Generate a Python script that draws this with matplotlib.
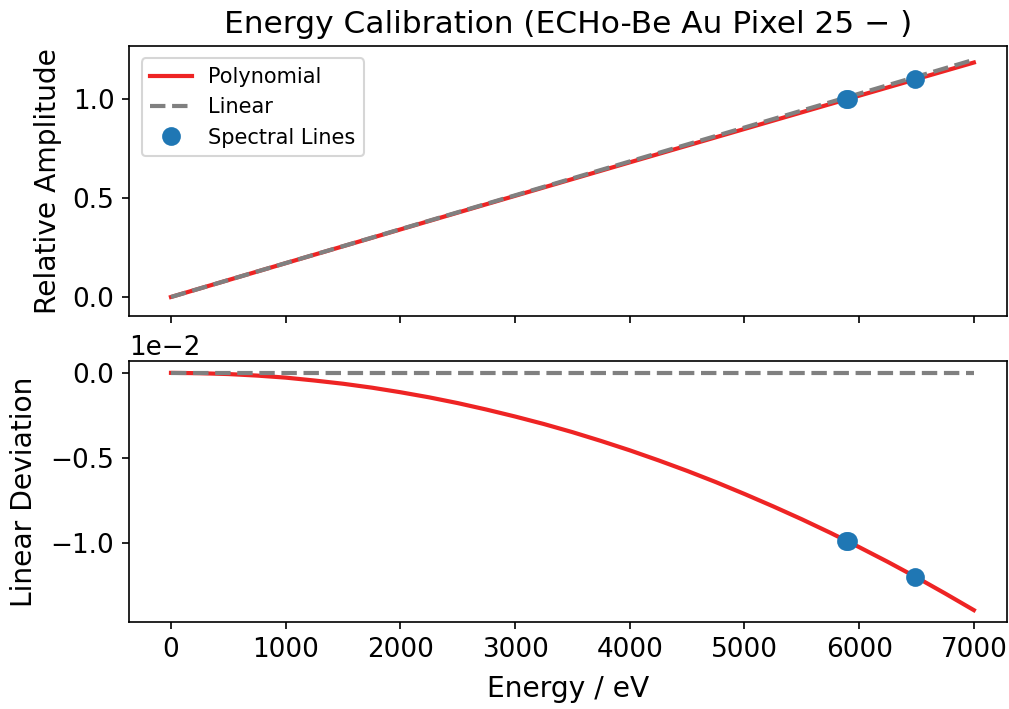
import numpy as np
import matplotlib
matplotlib.use("Agg")
import matplotlib.pyplot as plt

plt.rcParams["font.size"] = 12.6
plt.rcParams["axes.labelsize"] = 13.5

# Calibration curve samples (energy in eV)
energy = [0, 250, 500, 750, 1000, 1250, 1500, 1750, 2000, 2250, 2500, 2750,
          3000, 3250, 3500, 3750, 4000, 4250, 4500, 4750, 5000, 5250, 5500,
          5750, 6000, 6250, 6500, 6750, 7000]
poly_amplitude = [0.0, 0.04278, 0.08554, 0.12825, 0.17093, 0.21357, 0.25618,
                  0.29875, 0.34128, 0.38378, 0.42625, 0.46867, 0.51106,
                  0.55342, 0.59575, 0.63803, 0.68028, 0.72249, 0.76468,
                  0.80682, 0.84892, 0.89100, 0.93304, 0.97504, 1.01700,
                  1.05894, 1.10083, 1.14269, 1.18450]
linear_energy = [0, 7000]
linear_amplitude = [0.0, 1.19847]

# Deviation of the polynomial from the linear calibration
deviation = [0.0, -0.00002, -0.00007, -0.00016, -0.00028, -0.00045,
             -0.00064, -0.00087, -0.00114, -0.00144, -0.00178, -0.00216,
             -0.00257, -0.00301, -0.00349, -0.00401, -0.00456, -0.00515,
             -0.00577, -0.00643, -0.00713, -0.00786, -0.00862, -0.00942,
             -0.01026, -0.01113, -0.01204, -0.01299, -0.01397]
linear_deviation = [0.0, 0.0]

# Mn K lines used for the calibration
line_energy = [5887.65, 5898.75, 6490.45]
line_amplitude = [0.99815, 1.00000, 1.09923]
line_deviation = [-0.00987, -0.00991, -0.01200]

red = "#ee2424"
grey = "grey"
blue = "#1f77b4"

W, H, DPI = 1009, 709, 150
fig = plt.figure(figsize=(W / DPI, H / DPI), dpi=DPI)


def box(x0, y0, x1, y1):
    return [x0 / W, 1 - y1 / H, (x1 - x0) / W, (y1 - y0) / H]


ax1 = fig.add_axes(box(129, 46, 1007, 316))
ax2 = fig.add_axes(box(129, 361, 1007, 622), sharex=ax1)

ax1.plot(energy, poly_amplitude, color=red, lw=2, label="Polynomial")
ax1.plot(linear_energy, linear_amplitude, color=grey, lw=2, ls="--",
         label="Linear")
ax1.plot(line_energy, line_amplitude, "o", color=blue, ms=8,
         label="Spectral Lines")
ax1.set_ylabel("Relative Amplitude", labelpad=5)
ax1.set_ylim(-0.096, 1.268)
ax1.set_yticks([0.0, 0.5, 1.0])
ax1.tick_params(labelbottom=False)
ax1.legend(loc="upper left", fontsize=10, borderaxespad=0.6)
ax1.set_title("Energy Calibration (ECHo-Be Au Pixel 25 \u2212 )", fontsize=15)

ax2.plot(energy, deviation, color=red, lw=2)
ax2.plot(linear_energy, linear_deviation, color=grey, lw=2, ls="--")
ax2.plot(line_energy, line_deviation, "o", color=blue, ms=8)
ax2.set_ylabel("Linear Deviation", labelpad=6)
ax2.set_xlabel("Energy / eV", labelpad=6)
ax2.ticklabel_format(axis="y", style="sci", scilimits=(0, 0))
ax2.set_yticks([0.0, -0.005, -0.01])

ax1.set_xlim(-366, 7289)

fig.savefig("out.png", dpi=DPI)
